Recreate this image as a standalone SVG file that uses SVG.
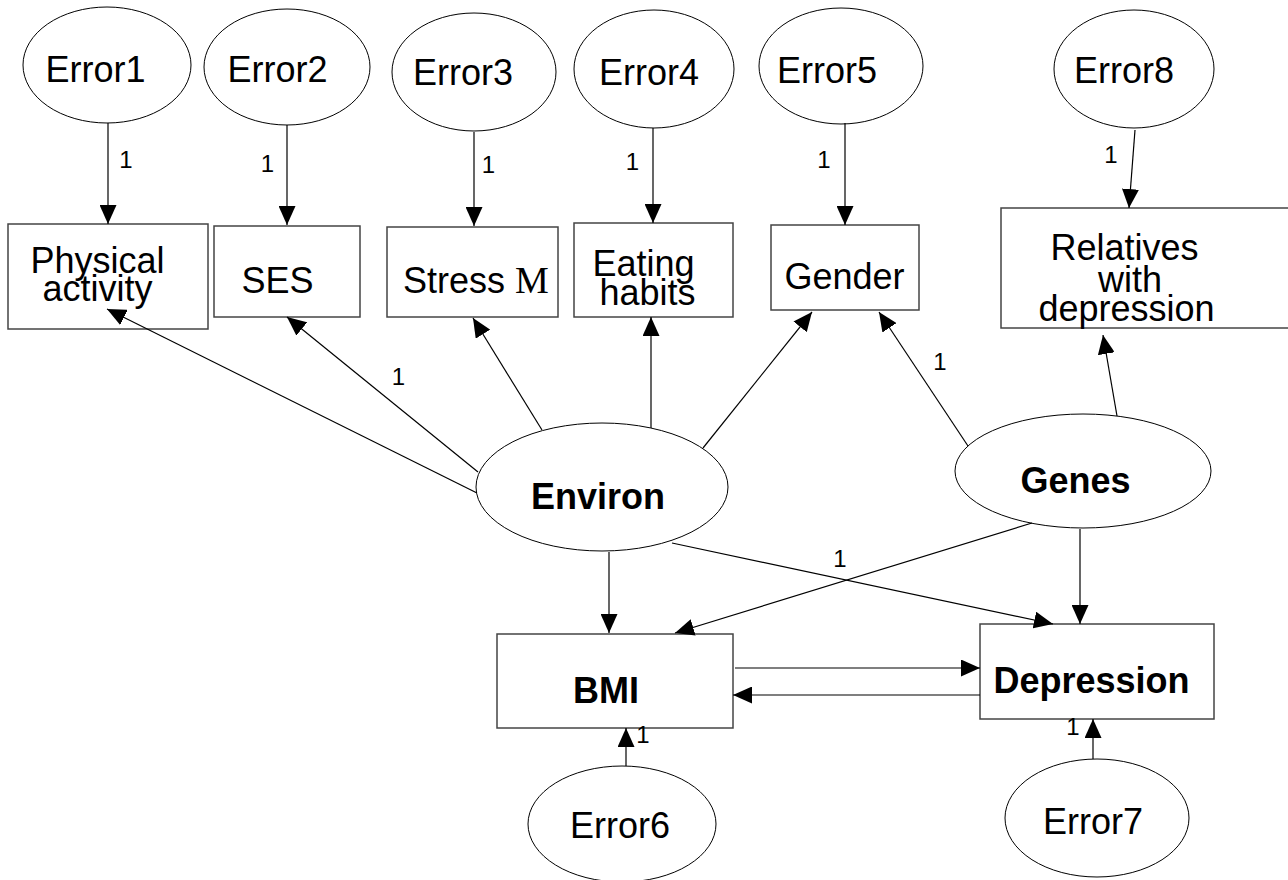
<svg xmlns="http://www.w3.org/2000/svg" width="1288" height="880" viewBox="0 0 1288 880">
<style>
.box{fill:#fff;stroke:#444;stroke-width:1.5}
.ell{fill:#fff;stroke:#000;stroke-width:1}
.t{font-family:"Liberation Sans",Arial,sans-serif;font-size:36px;fill:#000;text-anchor:middle}
.b{font-weight:bold}
.n{font-family:"Liberation Sans",Arial,sans-serif;font-size:24px;fill:#000;text-anchor:middle}
.c line{stroke:#000;stroke-width:1.2;marker-end:url(#ah)}
</style>
<defs>
<marker id="ah" markerUnits="userSpaceOnUse" markerWidth="19" markerHeight="17" refX="19" refY="8.5" orient="auto">
<path d="M0,0 L19,8.5 L0,17 z" fill="#000"/>
</marker>
</defs>
<rect width="1288" height="880" fill="#fff"/>

<g id="error1"><ellipse class="ell" cx="107" cy="65" rx="84" ry="58"/><text class="t" x="95.5" y="82">Error1</text></g>
<g id="error2"><ellipse class="ell" cx="287" cy="67" rx="83" ry="58"/><text class="t" x="277.5" y="82">Error2</text></g>
<g id="error3"><ellipse class="ell" cx="474" cy="72" rx="82" ry="59"/><text class="t" x="463" y="85">Error3</text></g>
<g id="error4"><ellipse class="ell" cx="654" cy="69" rx="80" ry="59"/><text class="t" x="649" y="85">Error4</text></g>
<g id="error5"><ellipse class="ell" cx="841" cy="66" rx="82" ry="58"/><text class="t" x="827" y="83">Error5</text></g>
<g id="error8"><ellipse class="ell" cx="1134" cy="69" rx="80" ry="59"/><text class="t" x="1124" y="83">Error8</text></g>

<g id="physical"><rect class="box" x="8" y="224" width="200" height="105"/><text class="t" x="97.5" y="273">Physical</text><text class="t" x="97.5" y="301">activity</text></g>
<g id="ses"><rect class="box" x="214" y="226" width="146" height="91"/><text class="t" x="277.5" y="293">SES</text></g>
<g id="stress"><rect class="box" x="387" y="227" width="171" height="90"/><text class="t" x="403" y="293" style="text-anchor:start">Stress <tspan style="font-family:'Liberation Serif','Times New Roman',serif;font-size:38px">M</tspan></text></g>
<g id="eating"><rect class="box" x="574" y="223" width="159" height="94"/><text class="t" x="643.5" y="276">Eating</text><text class="t" x="647.5" y="305">habits</text></g>
<g id="gender"><rect class="box" x="771" y="225" width="148" height="85"/><text class="t" x="844.5" y="289">Gender</text></g>
<g id="relatives"><rect class="box" x="1001" y="208" width="294" height="120"/><text class="t" x="1124.5" y="260">Relatives</text><text class="t" x="1130" y="292">with</text><text class="t" x="1126.5" y="321">depression</text></g>

<g id="environ"><ellipse class="ell" cx="602" cy="487" rx="126" ry="64"/><text class="t b" x="598" y="509">Environ</text></g>
<g id="genes"><ellipse class="ell" cx="1083" cy="471" rx="128" ry="57"/><text class="t b" x="1075.5" y="493">Genes</text></g>

<g id="bmi"><rect class="box" x="497" y="634" width="236" height="94"/><text class="t b" x="606" y="703">BMI</text></g>
<g id="depression"><rect class="box" x="980" y="624" width="234" height="95"/><text class="t b" x="1091.5" y="693">Depression</text></g>

<g id="error6"><ellipse class="ell" cx="622" cy="824" rx="94" ry="58"/><text class="t" x="620" y="838">Error6</text></g>
<g id="error7"><ellipse class="ell" cx="1097" cy="818" rx="92" ry="59"/><text class="t" x="1093" y="834">Error7</text></g>

<g id="connectors" class="c">
<line x1="108" y1="123" x2="108" y2="224"/>
<line x1="287" y1="125" x2="287" y2="225"/>
<line x1="474" y1="132" x2="474" y2="226"/>
<line x1="653" y1="128" x2="653" y2="223"/>
<line x1="845" y1="123" x2="845" y2="225"/>
<line x1="1135" y1="130" x2="1129" y2="208"/>
<line x1="477" y1="493" x2="107" y2="309"/>
<line x1="478" y1="472" x2="287" y2="317"/>
<line x1="542" y1="430" x2="473" y2="318"/>
<line x1="651" y1="428" x2="651" y2="317"/>
<line x1="703" y1="448" x2="812" y2="312"/>
<line x1="968" y1="446" x2="879" y2="312"/>
<line x1="1117" y1="416" x2="1103" y2="335"/>
<line x1="609" y1="552" x2="609" y2="633"/>
<line x1="672" y1="543" x2="1053" y2="624"/>
<line x1="1032" y1="523" x2="675" y2="633"/>
<line x1="1080" y1="529" x2="1080" y2="624"/>
<line x1="735" y1="668" x2="980" y2="668"/>
<line x1="980" y1="695" x2="733" y2="695"/>
<line x1="626" y1="766" x2="626" y2="728"/>
<line x1="1093" y1="759" x2="1093" y2="719"/>
</g>
<g id="labels">
<text class="n" x="126" y="168">1</text>
<text class="n" x="267.5" y="172">1</text>
<text class="n" x="488.5" y="173">1</text>
<text class="n" x="632.5" y="170">1</text>
<text class="n" x="824" y="168">1</text>
<text class="n" x="1111" y="163">1</text>
<text class="n" x="398.5" y="385">1</text>
<text class="n" x="940" y="370">1</text>
<text class="n" x="840" y="567">1</text>
<text class="n" x="643" y="743">1</text>
<text class="n" x="1073" y="735">1</text>
</g>
</svg>
